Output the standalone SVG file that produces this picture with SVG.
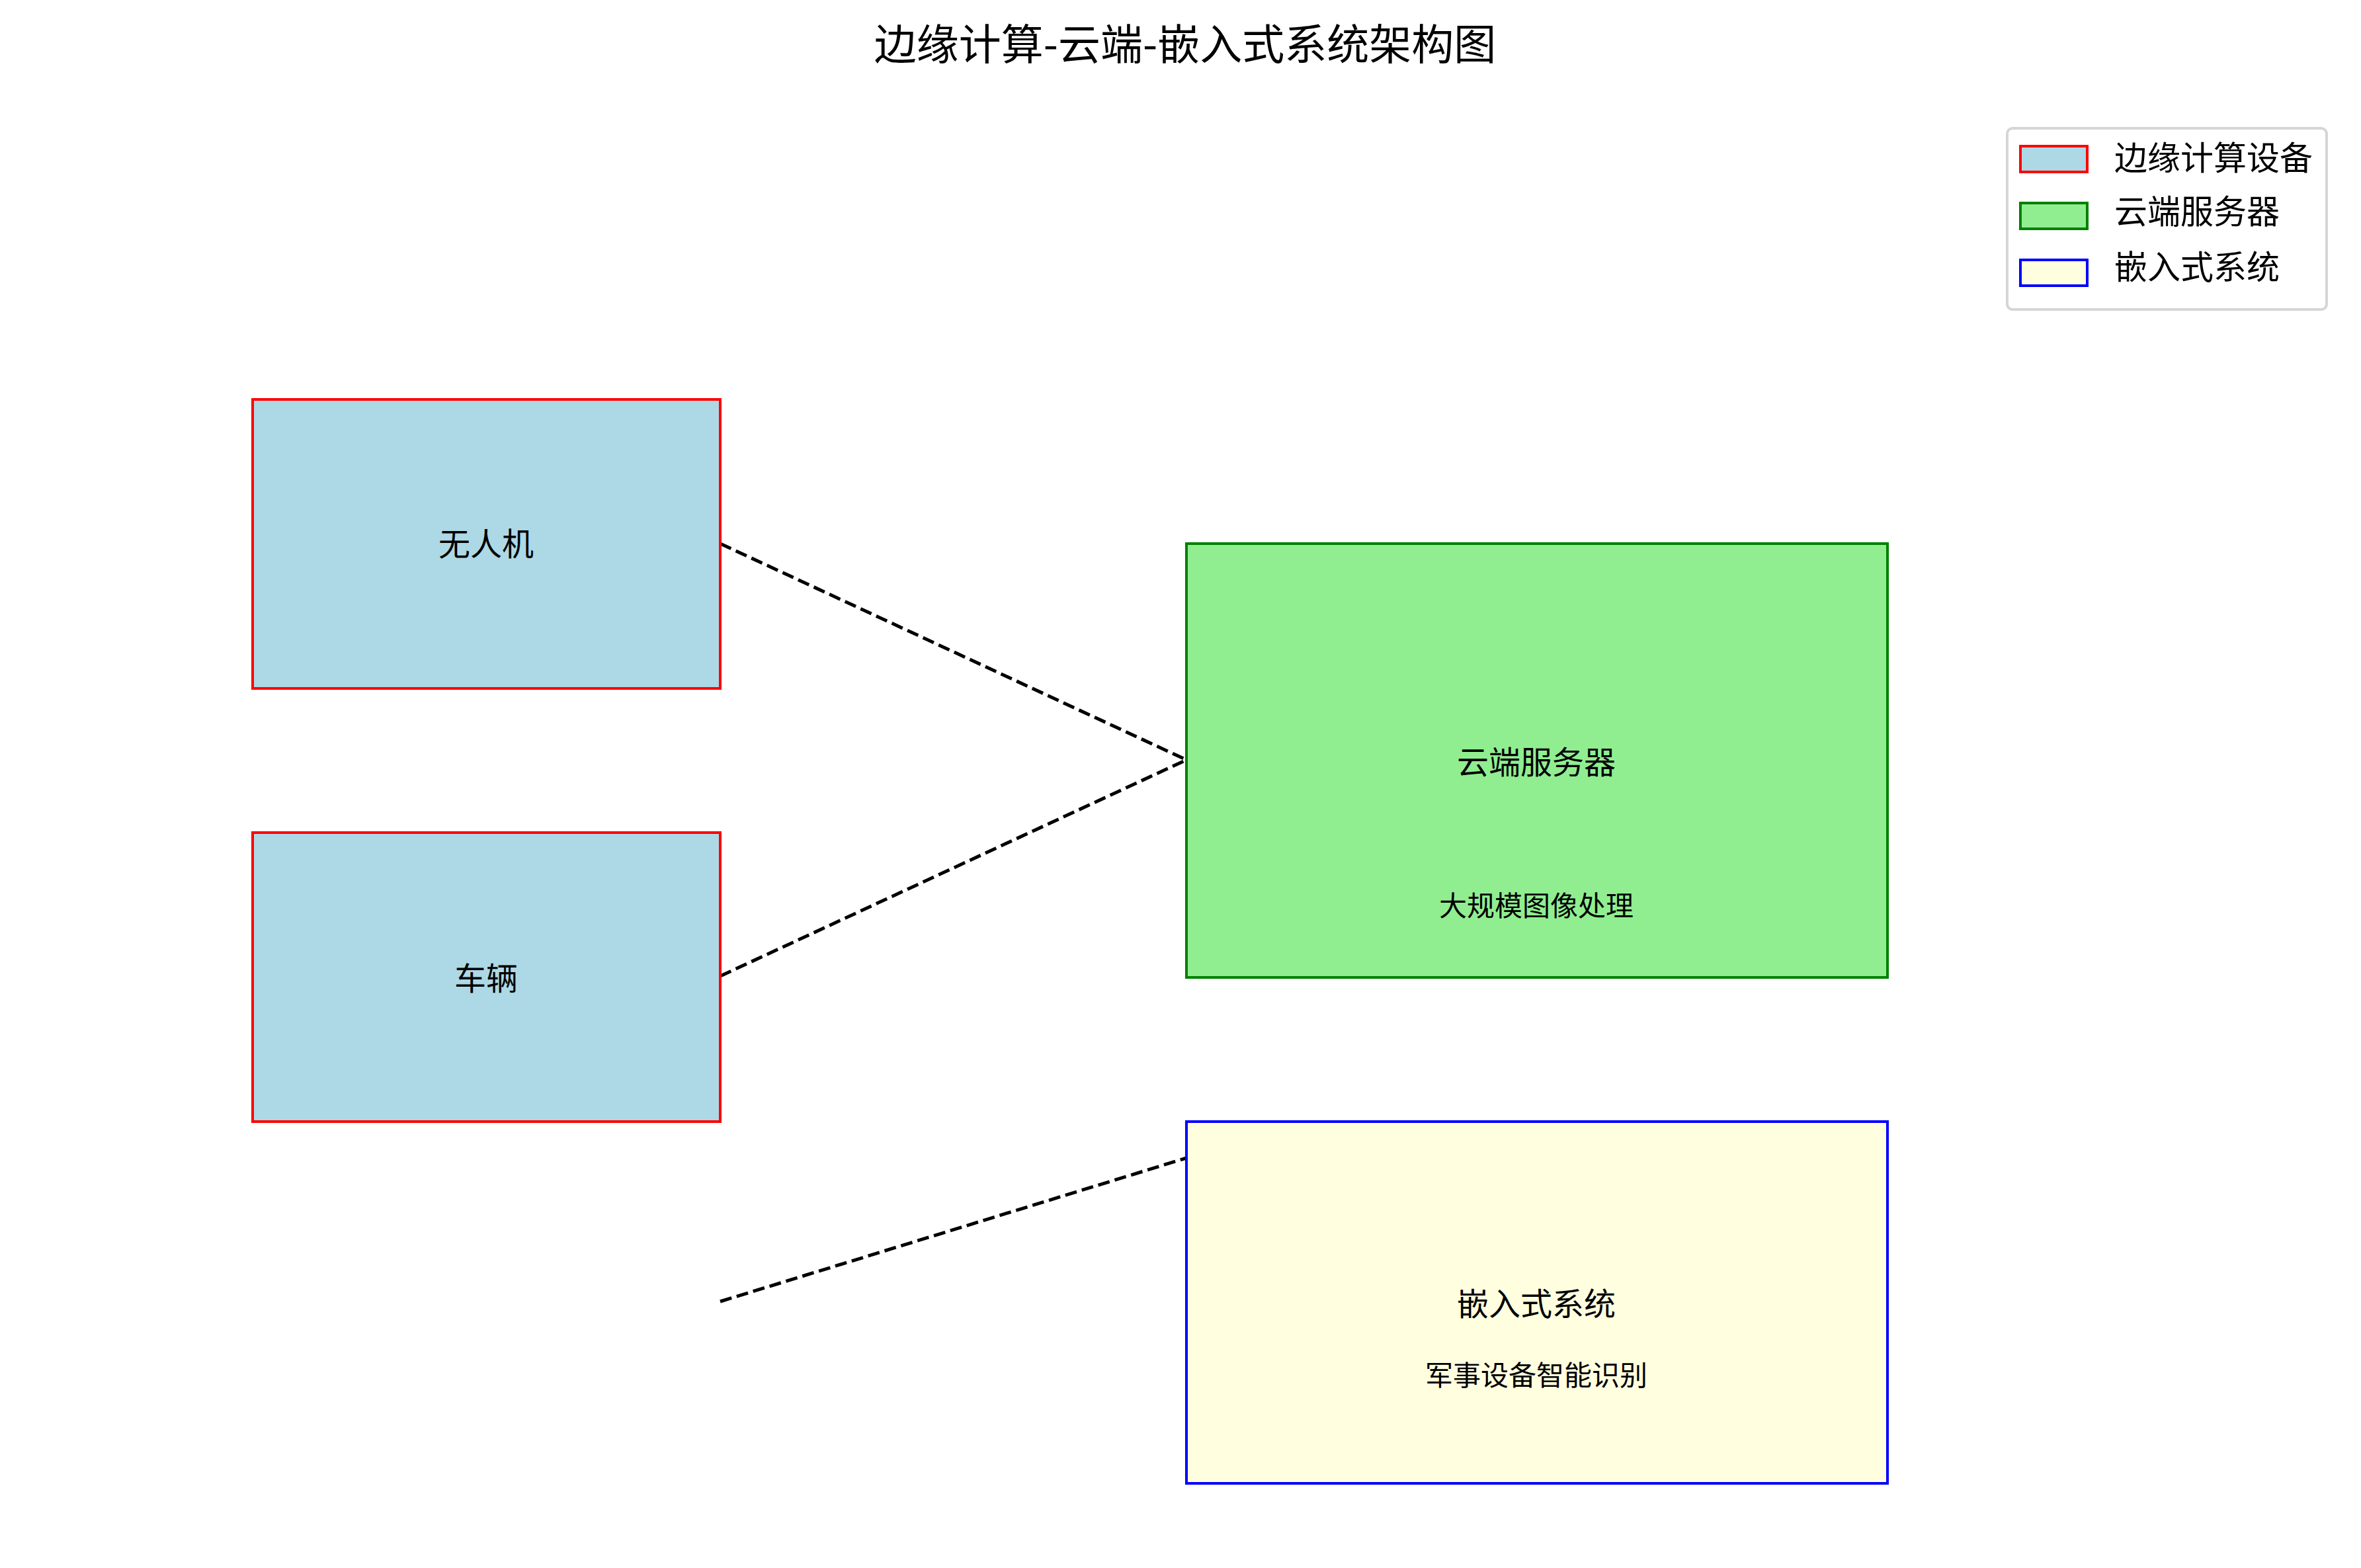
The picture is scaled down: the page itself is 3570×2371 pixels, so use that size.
<svg xmlns="http://www.w3.org/2000/svg" width="3570" height="2371" viewBox="0 0 3570 2371">
<style>
text{font-family:"Noto Sans CJK SC","DejaVu Sans",sans-serif;fill:#000}
.lbl{font-size:48px;text-anchor:middle;dominant-baseline:central}
.sub{font-size:42px;text-anchor:middle;dominant-baseline:central}
.leg{font-size:50px;dominant-baseline:central}
.edge{fill:#add8e6;stroke:#ff0000;stroke-width:4}
.cloud{fill:#90ee90;stroke:#008000;stroke-width:4}
.emb{fill:#ffffe0;stroke:#0000ff;stroke-width:4}
.conn{stroke:#000;stroke-width:5;stroke-dasharray:18,8;fill:none}
</style>
<rect width="3570" height="2371" fill="#fff"/>
<text x="1792" y="62" font-size="64" text-anchor="middle" dominant-baseline="central">边缘计算-云端-嵌入式系统架构图</text>
<g id="connectors">
<line class="conn" x1="1089" y1="822" x2="1794" y2="1149"/>
<line class="conn" x1="1089" y1="1476" x2="1794" y2="1149"/>
<line class="conn" x1="1089" y1="1968" x2="1794" y2="1751"/>
</g>
<g id="drone"><rect class="edge" x="382" y="604" width="707" height="437"/><text class="lbl" x="735" y="819">无人机</text></g>
<g id="vehicle"><rect class="edge" x="382" y="1259" width="707" height="437"/><text class="lbl" x="735" y="1476">车辆</text></g>
<g id="cloud"><rect class="cloud" x="1794" y="822" width="1060" height="656"/><text class="lbl" x="2323" y="1149">云端服务器</text><text class="sub" x="2323" y="1366">大规模图像处理</text></g>
<g id="embedded"><rect class="emb" x="1794" y="1696" width="1060" height="547"/><text class="lbl" x="2323" y="1968">嵌入式系统</text><text class="sub" x="2323" y="2076">军事设备智能识别</text></g>
<g id="legend">
<rect x="3035" y="194" width="483" height="274" rx="8" fill="#fff" stroke="#d5d5d5" stroke-width="4"/>
<rect class="edge" x="3055" y="221" width="101" height="39"/><text class="leg" x="3197" y="235">边缘计算设备</text>
<rect class="cloud" x="3055" y="307" width="101" height="39"/><text class="leg" x="3197" y="316">云端服务器</text>
<rect class="emb" x="3055" y="393" width="101" height="39"/><text class="leg" x="3197" y="400">嵌入式系统</text>
</g>
</svg>
